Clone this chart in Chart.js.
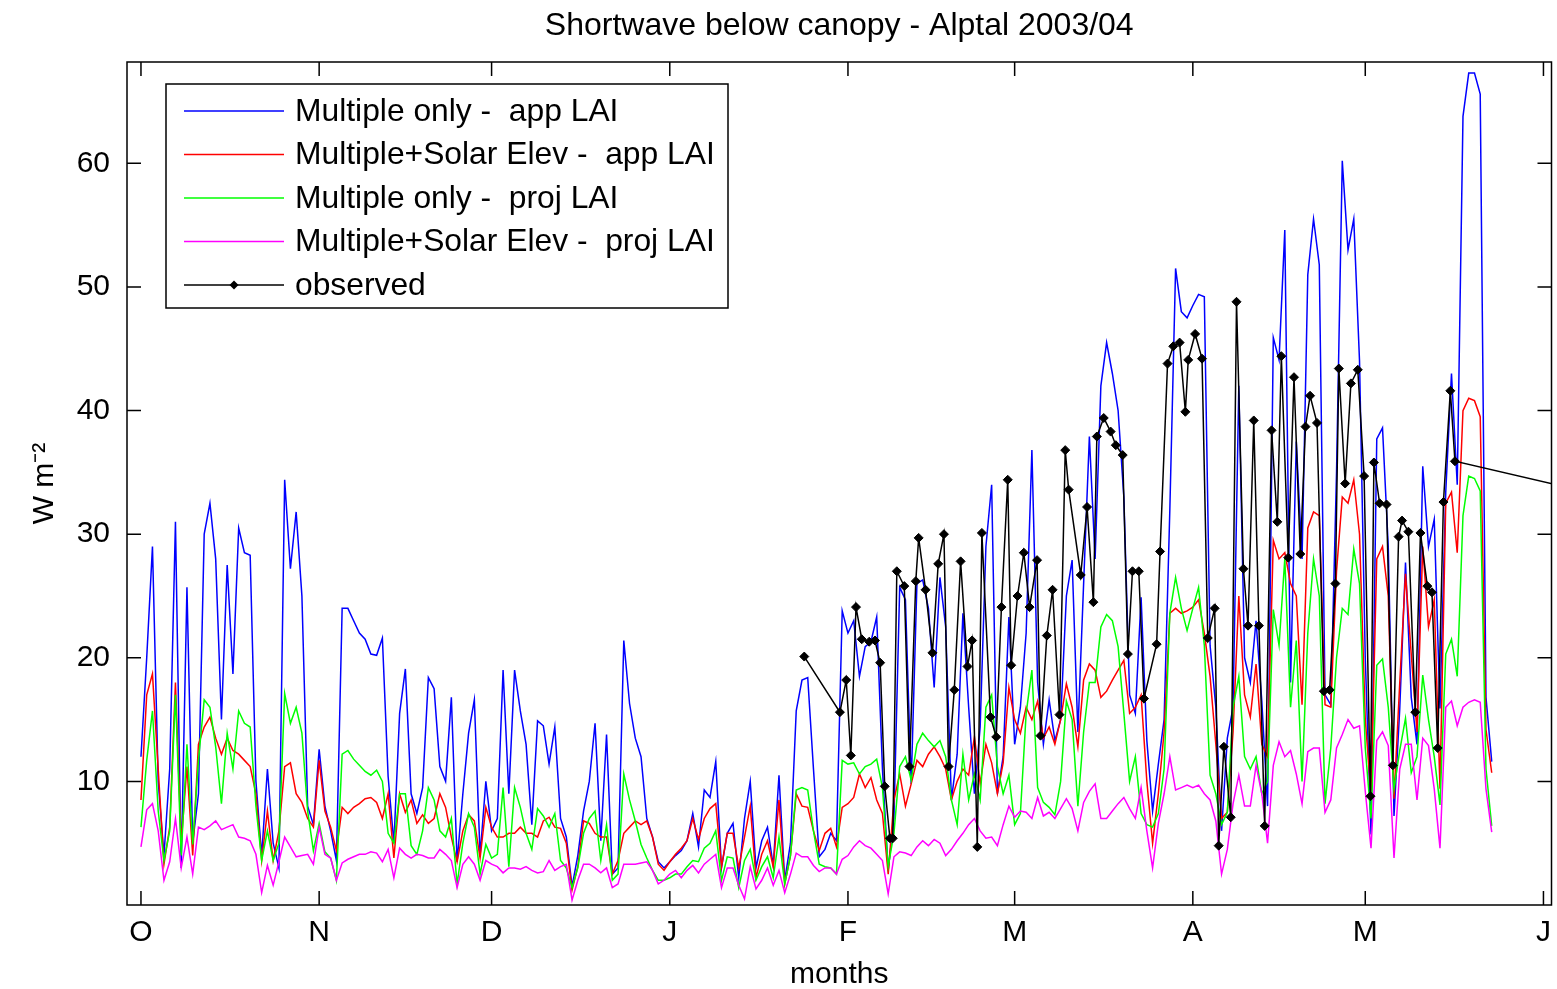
<!DOCTYPE html>
<html>
<head>
<meta charset="utf-8">
<title>Shortwave below canopy - Alptal 2003/04</title>
<script src="https://cdn.jsdelivr.net/npm/chart.js@4.4.1/dist/chart.umd.min.js"></script>
<style>
  html, body { margin: 0; padding: 0; background: #fff; }
  #wrap { width: 1557px; height: 989px; }
</style>
</head>
<body>
<div id="wrap"><canvas id="canvas" width="1557" height="989"></canvas></div>
<script>
// days since 1 Oct 2003, month starts and their tick letters
const monthStart = [0, 31, 61, 92, 123, 152, 183, 213, 244];
const monthLabels = ["O", "N", "D", "J", "F", "M", "A", "M", "J"];
const yTicks = [10, 20, 30, 40, 50, 60];
const titleText = "Shortwave below canopy - Alptal 2003/04";

// daily modelled values (W m-2), one per day from 1 Oct
const multAppLAI = [
  12, 20, 29, 10, 4, 11, 31, 3, 25.7, 5,
  9, 30, 32.5, 28, 15, 27.5, 18.7, 30.5, 28.5, 28.3,
  10, 4, 11, 5, 3, 34.4, 27.2, 31.8, 25, 8,
  6.5, 12.6, 8, 6, 3.6, 24, 24, 23, 22, 21.5,
  20.3, 20.2, 21.6, 10.4, 5, 15.5, 19.1, 9, 7.4, 9.5,
  18.4, 17.5, 11.2, 10, 16.8, 3.5, 9, 13.9, 16.6, 4,
  10, 6, 7, 19, 9, 19, 15.7, 13, 6.5, 14.9,
  14.5, 11.4, 14.4, 7, 5.5, 1.5, 4, 7.6, 10, 14.7,
  5.2, 13.8, 2.5, 3, 21.4, 16.3, 13.5, 12, 7, 5.5,
  3.5, 3, 3.5, 4, 4.4, 5.2, 7.4, 4.7, 9.3, 8.7,
  11.6, 3, 5.8, 6.6, 2.2, 7, 10, 3, 5.2, 6.3,
  3.2, 10.5, 2, 5, 15.7, 18.2, 18.4, 11, 3.9, 4.5,
  5.8, 5.2, 23.8, 22, 23, 18.5, 20.9, 21.3, 23.3, 11,
  2.8, 7, 25.7, 24.7, 9.8, 26, 26.3, 24, 17.6, 26.5,
  22.5, 8.5, 12.2, 23.6, 16, 9, 14.4, 29, 34, 9,
  12, 23.3, 13, 16, 22, 36.8, 18, 13, 16.6, 13.3,
  15, 25, 27.9, 14, 26, 37.9, 28, 42, 45.5, 43,
  40, 33, 17, 15.5, 24.9, 13.3, 7.6, 11.4, 15, 32,
  51.5, 48, 47.5, 48.5, 49.4, 49.2, 21, 16, 6, 13.5,
  16, 42, 20, 18, 23, 16.5, 8, 45.9, 44.1, 54.6,
  18, 37.5, 28, 51, 55.5, 51.8, 17, 16.2, 35, 60.2,
  53, 55.5, 44, 20, 5.7, 37.7, 38.6, 29, 7.2, 15.9,
  27.7, 16.8, 13, 35.5, 29, 31.2, 15.9, 33.4, 43, 34,
  63.8, 67.3, 67.3, 65.6, 16.8, 11.6
];

const multSolarAppLAI = [
  8.5, 17, 18.7, 11, 3.3, 6.3, 18, 5, 11.2, 4,
  13, 14.4, 15.2, 13.5, 12.2, 13.5, 12.5, 12.2, 11.7, 11.2,
  9, 3.6, 7.6, 3.6, 6, 11.2, 11.5, 9, 8.3, 7,
  6.3, 11.7, 7.6, 6.3, 4.4, 7.9, 7.4, 7.9, 8.2, 8.6,
  8.7, 8.3, 7, 9, 3.8, 9, 7.5, 8.5, 6.6, 7.3,
  6.6, 7, 9, 7.9, 5.5, 3.5, 6, 7.3, 6.8, 3.8,
  7.9, 6.3, 5.5, 5.5, 5.8, 5.8, 6.3, 5.8, 5.8, 5.5,
  6.8, 7.1, 6.3, 6.2, 5, 1.2, 3.1, 6.8, 6.6, 5.8,
  5.5, 5.5, 2.5, 3.6, 5.8, 6.3, 6.8, 6.5, 6.8, 5.5,
  3.3, 2.8, 3.5, 4.1, 4.6, 5.2, 7, 5.3, 7, 7.8,
  8.2, 3.1, 5.8, 5.8, 3, 5.5, 8, 2.2, 4.1, 5.2,
  3.1, 8.5, 1.7, 4, 9, 8, 7.9, 6, 4.4, 5.8,
  6.2, 4.7, 7.9, 8.2, 8.7, 10.6, 9.5, 10.3, 8.5, 7.4,
  2.5, 8.5, 10.6, 8, 9.8, 11.7, 11.2, 12.2, 12.8, 12,
  11, 8.5, 10, 11, 10.5, 13.6, 9.8, 13, 11.5, 9,
  11.5, 17.6, 15, 13.9, 16, 15, 16.5, 13.5, 14.4, 13,
  15, 17.9, 16, 12.8, 18.2, 19.5, 19, 16.8, 17.3, 18.2,
  19, 19.8, 15.5, 16, 17, 10, 5, 9, 14, 23.6,
  24, 23.6, 23.8, 24.1, 24.7, 22, 18.5, 13, 7, 7.5,
  14, 25, 17, 15.2, 19.5, 13, 12, 29.5, 28, 28.5,
  26, 25, 16.2, 30.5, 31.8, 31.5, 16.2, 16, 27, 33,
  32.5, 34.4, 30, 15, 9, 28, 29, 25, 8.6, 18,
  26.8, 20.3, 14, 29, 22.5, 24.7, 9.4, 32.5, 33.4, 28.5,
  40, 41, 40.8, 39.5, 14.2, 10.7
];

const multProjLAI = [
  6.3, 11.7, 15.7, 7.6, 3.6, 6, 17, 4, 13, 4.9,
  11.7, 16.6, 16, 12.8, 8.2, 13.9, 11, 15.7, 14.7, 14.4,
  8, 3.6, 6, 3.6, 5, 17.1, 14.7, 16, 13.9, 7.6,
  4.4, 6.6, 4.3, 3.8, 2, 12.2, 12.5, 11.8, 11.3, 10.8,
  10.5, 10.9, 10, 5.8, 5, 9, 9, 4.8, 4.1, 6,
  9.5, 8.5, 6, 5.5, 7, 1.7, 5, 7.4, 6.3, 2.5,
  4.9, 3.8, 4.1, 9.5, 3.1, 9.5, 7.9, 5.8, 4.5, 7.8,
  7.2, 6.3, 7.4, 3.6, 3, 1.4, 3, 5.8, 7, 7.6,
  3.6, 6.5, 2, 2.5, 10.6, 8.5, 6.8, 4.9, 3.8, 2.8,
  2, 2, 2.2, 2.5, 2.5, 3.1, 3.6, 3.5, 4.6, 5,
  6, 2, 3.9, 3.8, 1.4, 3.6, 4.5, 2, 3.1, 3.9,
  2.2, 5.5, 1.7, 4, 9.3, 9.5, 9.3, 6, 3.3, 3.1,
  3, 2.5, 11.7, 11.4, 11.5, 10.6, 11.2, 11.4, 11.8, 9.5,
  3.1, 5.8, 11.2, 12, 10.1, 13, 13.9, 13.3, 12.8, 13.3,
  12, 8.5, 6.5, 12.2, 8.5, 10.6, 8.5, 16, 17, 11.2,
  9, 10.5, 6.5, 7.4, 15.5, 19, 9.5, 8.3, 7.9, 7.3,
  10, 16.5, 15, 8, 14, 18, 18, 22.5, 23.5, 23,
  20.9, 15.5, 10, 12, 7.4, 6.5, 6.3, 7.4, 11, 23.6,
  26.5, 24, 22.2, 24, 25.7, 21, 10.5, 9, 6.5, 7.5,
  16, 18.5, 12, 11, 12, 9, 10, 23.9, 21, 28,
  16, 21.4, 10, 22, 28, 25, 8.2, 12.7, 20, 24,
  23.5, 28.8, 26, 12.7, 7, 19.4, 19.9, 16, 9.4, 12.5,
  15.1, 10.7, 12, 18.6, 15, 12, 8.1, 20.3, 21.5, 18.5,
  31.5, 34.7, 34.5, 33.5, 11, 6.4
];

const multSolarProjLAI = [
  4.7, 7.7, 8.2, 6, 2, 3.5, 7, 3, 5.5, 2.5,
  6.3, 6.1, 6.4, 6.8, 6.1, 6.3, 6.5, 5.5, 5.4, 5.2,
  4.1, 1, 3.2, 1.6, 3.5, 5.5, 4.7, 3.9, 4, 4.1,
  3.3, 6.3, 4.1, 3.8, 2, 3.4, 3.7, 3.9, 4.1, 4.1,
  4.3, 4.2, 3.5, 4.5, 2.2, 4.6, 4.1, 3.8, 4.1, 4,
  3.8, 3.8, 4.5, 4.1, 3.6, 1.4, 3.3, 3.9, 3.3, 2,
  3.6, 3.3, 3.1, 2.6, 3, 3, 2.9, 3.1, 2.8, 2.6,
  2.7, 3.6, 2.8, 3.1, 3.3, 0.4, 2, 3.3, 3.3, 3,
  2.6, 3, 1.4, 1.7, 3.3, 3.3, 3.3, 3.4, 3.5, 2.8,
  1.7, 2, 2.5, 2.8, 2.2, 2.8, 3.2, 2.6, 3.3, 3.7,
  4.1, 1.4, 3, 3, 1.6, 0.5, 3.1, 1.3, 2, 3,
  1.6, 2.8, 1, 2.5, 4.2, 3.9, 3.9, 3.2, 2.7, 3,
  3, 2.5, 3.7, 4, 4.7, 5.2, 4.8, 4.6, 4.1, 3.6,
  0.9, 3.9, 4.3, 4.2, 4, 4.7, 5.2, 4.8, 5.3, 5,
  4, 4.5, 5.2, 5.8, 6.5, 7, 6, 5.4, 5.5, 4.8,
  6.5, 8, 7.1, 7.6, 7.5, 7, 8.7, 7.2, 7.5, 7,
  7.8, 8.6, 7.8, 6, 8.3, 9.2, 9.8, 7, 7, 7.6,
  8.2, 8.7, 7.8, 7, 9.5, 6, 3, 6.6, 9, 12,
  9.3, 9.5, 9.7, 9.5, 9.7, 9, 8.5, 6.8, 2.5, 4.5,
  8.2, 10.5, 8, 8, 11.3, 9, 5, 11.3, 13.2, 12,
  12.5, 10.6, 8.2, 12.4, 12.7, 12.7, 7.5, 8.5, 12.7, 13.8,
  15, 14.3, 14.5, 9.2, 4.6, 13.3, 14, 12.9, 3.8, 11,
  13, 13, 8.5, 13.5, 12.9, 9.4, 4.6, 16, 16.5, 14.5,
  16, 16.4, 16.6, 16.4, 9.4, 5.9
];

// observed values: day since 1 Oct and W m-2
const obsDay = [
  115.4, 121.6, 122.7, 123.5, 124.4, 125.4, 126.7, 127.7, 128.6, 129.4,
  130.3, 130.8, 131.5, 132.8, 133.7, 134.8, 135.3, 136.5, 137.7, 138.7,
  139.7, 140.5, 141.5, 142.6, 143.8, 144.6, 145.5, 146.3, 147.8, 148.8,
  149.7, 150.8, 151.4, 152.5, 153.6, 154.6, 155.9, 156.5, 157.6, 158.6,
  159.8, 160.8, 161.4, 163.5, 164.6, 165.7, 166.3, 167.5, 168.7, 169.6,
  170.8, 171.7, 172.5, 173.6, 174.5, 176.7, 177.3, 178.6, 179.6, 180.7,
  181.7, 182.2, 183.4, 184.6, 185.6, 186.8, 187.5, 188.4, 189.6, 190.6,
  191.8, 192.6, 193.6, 194.5, 195.5, 196.7, 197.7, 198.4, 199.6, 200.6,
  201.7, 202.6, 203.4, 204.6, 205.8, 206.8, 207.8, 208.4, 209.5, 210.5,
  211.7, 212.8, 213.9, 214.5, 215.5, 216.7, 217.8, 218.8, 219.4, 220.5,
  221.7, 222.6, 223.8, 224.6, 225.6, 226.6, 227.8, 228.6, 260
];
const obsVal = [
  20.1, 15.6, 18.2, 12.1, 24.1, 21.5, 21.3, 21.4, 19.6, 9.6,
  5.4, 5.4, 27, 25.8, 11.2, 26.2, 29.7, 25.5, 20.4, 27.6,
  30, 11.2, 17.4, 27.8, 19.3, 21.4, 4.7, 30.1, 15.2, 13.6,
  24.1, 34.4, 19.4, 25, 28.5, 24.1, 27.9, 13.7, 21.8, 25.5,
  15.4, 36.8, 33.6, 26.7, 32.2, 24.5, 37.9, 39.4, 38.3, 37.2,
  36.4, 20.3, 27, 27, 16.7, 21.1, 28.6, 43.8, 45.2, 45.5,
  39.9, 44.1, 46.2, 44.2, 21.6, 24, 4.8, 12.8, 7.1, 48.8,
  27.2, 22.6, 39.2, 22.6, 6.4, 38.4, 31, 44.4, 28.1, 42.7,
  28.4, 38.7, 41.2, 39, 17.3, 17.4, 26, 43.4, 34.1, 42.2,
  43.3, 34.7, 8.8, 35.8, 32.5, 32.4, 11.3, 29.8, 31.1, 30.2,
  15.6, 30.1, 25.8, 25.3, 12.7, 32.6, 41.6, 35.9, 32.5
];

const FONT = '"Liberation Sans", Arial, Helvetica, sans-serif';
Chart.defaults.font.family = FONT;
Chart.defaults.color = "#000";

function toPoints(xs, ys) {
  return ys.map((v, i) => ({ x: xs[i], y: v }));
}
const dayIdx = multAppLAI.map((_, i) => i);

function series(label, values, color, order) {
  return {
    label: label,
    data: toPoints(dayIdx, values),
    borderColor: color,
    backgroundColor: color,
    borderWidth: 1.5,
    pointRadius: 0,
    tension: 0,
    order: order,
  };
}

// box round the plot with inward ticks on all four sides, title over the plot
const frame = {
  id: "frame",
  afterDatasetsDraw(chart) {
    const { ctx, chartArea: a, scales } = chart;
    const len = 14;
    ctx.save();
    ctx.strokeStyle = "#000";
    ctx.lineWidth = 1.5;
    ctx.strokeRect(a.left, a.top, a.right - a.left, a.bottom - a.top);
    ctx.beginPath();
    scales.x.ticks.forEach((t) => {
      const px = scales.x.getPixelForValue(t.value);
      ctx.moveTo(px, a.bottom); ctx.lineTo(px, a.bottom - len);
      ctx.moveTo(px, a.top); ctx.lineTo(px, a.top + len);
    });
    scales.y.ticks.forEach((t) => {
      const py = scales.y.getPixelForValue(t.value);
      ctx.moveTo(a.left, py); ctx.lineTo(a.left + len, py);
      ctx.moveTo(a.right, py); ctx.lineTo(a.right - len, py);
    });
    ctx.stroke();

    ctx.fillStyle = "#000";
    ctx.font = "32px " + FONT;
    ctx.textAlign = "center";
    ctx.textBaseline = "middle";
    ctx.fillText(titleText, (a.left + a.right) / 2, a.top - 36);
    ctx.restore();
  },
};

// legend box drawn inside the plot, top left
const insideLegend = {
  id: "insideLegend",
  afterDraw(chart) {
    const { ctx, chartArea: a } = chart;
    const x0 = a.left + 39, y0 = a.top + 22, w = 562, h = 224;
    ctx.save();
    ctx.fillStyle = "#fff";
    ctx.fillRect(x0, y0, w, h);
    ctx.strokeStyle = "#000";
    ctx.lineWidth = 1.5;
    ctx.strokeRect(x0, y0, w, h);
    ctx.font = "31.8px " + FONT;
    ctx.textBaseline = "middle";
    chart.data.datasets.forEach((ds, i) => {
      const y = y0 + 27 + i * 43.5;
      ctx.strokeStyle = ds.borderColor;
      ctx.lineWidth = 1.5;
      ctx.beginPath();
      ctx.moveTo(x0 + 18, y);
      ctx.lineTo(x0 + 118, y);
      ctx.stroke();
      if (ds.pointRadius > 0) {
        const cx = x0 + 68, r = ds.pointRadius;
        ctx.fillStyle = ds.borderColor;
        ctx.beginPath();
        ctx.moveTo(cx, y - r); ctx.lineTo(cx + r, y); ctx.lineTo(cx, y + r); ctx.lineTo(cx - r, y);
        ctx.closePath();
        ctx.fill();
      }
      ctx.fillStyle = "#000";
      ctx.fillText(ds.label, x0 + 129, y + 1);
    });
    ctx.restore();
  },
};

const ctx = document.getElementById("canvas").getContext("2d");
const chart = new Chart(ctx, {
  type: "line",
  data: {
    datasets: [
      series("Multiple only -  app LAI", multAppLAI, "#0000ff", 5),
      series("Multiple+Solar Elev -  app LAI", multSolarAppLAI, "#ff0000", 4),
      series("Multiple only -  proj LAI", multProjLAI, "#00ff00", 3),
      series("Multiple+Solar Elev -  proj LAI", multSolarProjLAI, "#ff00ff", 2),
      {
        label: "observed",
        data: toPoints(obsDay, obsVal),
        borderColor: "#000",
        backgroundColor: "#000",
        borderWidth: 1.5,
        pointStyle: "rectRot",
        pointRadius: 4.5,
        pointBorderWidth: 1,
        tension: 0,
        order: 1,
      },
    ],
  },
  options: {
    responsive: false,
    animation: false,
    devicePixelRatio: 1,
    events: [],
    layout: { padding: { left: 0, right: 2, top: 62, bottom: 0 } },
    scales: {
      x: {
        type: "linear",
        min: -2.43,
        max: 245.4,
        grid: { display: false },
        border: { display: false },
        afterBuildTicks: (s) => { s.ticks = monthStart.map((v) => ({ value: v })); },
        afterFit: (s) => { s.height = 84; s.paddingLeft = 0; s.paddingRight = 0; },
        ticks: {
          autoSkip: false,
          maxRotation: 0,
          padding: 2,
          font: { size: 30 },
          callback: (v) => monthLabels[monthStart.indexOf(v)],
        },
        title: { display: true, text: "months", font: { size: 30 }, padding: { top: 0, bottom: -4 } },
      },
      y: {
        min: 0,
        max: 68.2,
        grid: { display: false },
        border: { display: false },
        afterBuildTicks: (s) => { s.ticks = yTicks.map((v) => ({ value: v })); },
        afterFit: (s) => { s.width = 127; s.paddingTop = 0; s.paddingBottom = 0; },
        ticks: { padding: 9, font: { size: 30 } },
        title: { display: true, text: "W m\u207B\u00B2", font: { size: 30 }, padding: { top: 27, bottom: 0 } },
      },
    },
    plugins: {
      legend: { display: false },
      tooltip: { enabled: false },
      title: { display: false },
    },
  },
  plugins: [frame, insideLegend],
});
</script>
</body>
</html>
